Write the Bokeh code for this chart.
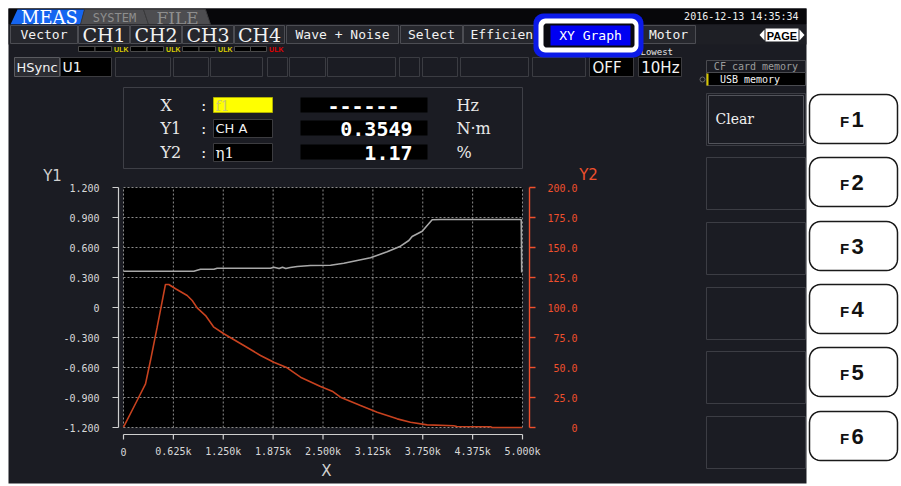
import numpy as np
from bokeh.plotting import figure
from bokeh.models import Range1d
from bokeh.core.properties import value
from bokeh.embed import file_html
from bokeh.resources import INLINE

# ---------------- data ----------------
x_ticks = [0, 625, 1250, 1875, 2500, 3125, 3750, 4375, 5000]
x_tick_labels = ["0", "0.625k", "1.250k", "1.875k", "2.500k", "3.125k", "3.750k", "4.375k", "5.000k"]
y1_ticks = [1.2, 0.9, 0.6, 0.3, 0.0, -0.3, -0.6, -0.9, -1.2]
y1_tick_labels = ["1.200", "0.900", "0.600", "0.300", "0", "-0.300", "-0.600", "-0.900", "-1.200"]
y2_ticks = [200, 175, 150, 125, 100, 75, 50, 25, 0]
y2_tick_labels = ["200.0", "175.0", "150.0", "125.0", "100.0", "75.0", "50.0", "25.0", "0"]

# Y1 (torque, N·m) vs X (f1, Hz)
torque_x = [0, 881, 965, 1132, 1174, 1842, 1884, 1950, 1992, 2034, 2090, 2177, 2343, 2594,
            2761, 2928, 3095, 3304, 3471, 3576, 3617, 3743, 3868, 3972, 4984, 4990]
torque_y = [0.363, 0.363, 0.383, 0.383, 0.393, 0.393, 0.403, 0.390, 0.403, 0.390, 0.400, 0.410,
            0.420, 0.423, 0.443, 0.470, 0.497, 0.557, 0.613, 0.670, 0.710, 0.763, 0.877, 0.880,
            0.880, 0.350]
# Y2 (efficiency eta1, %) vs X
eff_x = [0, 150, 276, 338, 422, 526, 568, 652, 798, 861, 923, 1028, 1132, 1257, 1508, 1717,
         1884, 2051, 2218, 2469, 2615, 2719, 2970, 3179, 3430, 3596, 3805, 4139, 4177, 4599,
         4620, 4996]
eff_y = [0.3, 19.8, 36.4, 55.8, 83.6, 119.2, 119.2, 115.6, 110.0, 105.8, 99.7, 93.3, 83.6,
         78.1, 68.3, 60.0, 54.4, 49.7, 41.9, 34.2, 30.3, 25.3, 18.3, 12.8, 7.2, 4.4, 2.2, 1.4,
         0.8, 0.6, 0.0, 0.0]

menu_tabs = ["Vector", "CH1", "CH2", "CH3", "CH4", "Wave + Noise", "Select", "Efficien", "XY Graph", "Motor"]
fkeys = ["1", "2", "3", "4", "5", "6"]

# ---------------- layout ----------------
W, H = 901, 486
O = 0  # offset (image px -> figure px)
MONO = "DejaVu Sans Mono"
SERIF = "DejaVu Serif"
SANSB = "Liberation Sans"

BG = "#1b1c23"
TABF = "#26272d"
TABL = "#4c4d53"
BOXL = "#3b3c42"
RED_AX = "#f0502d"
RED_LN = "#c8421f"
GRAY_LN = "#a8a8a8"

# plot area (image pixels)
PL, PR, PT, PB = 123, 522, 187, 427

p = figure(width=W, height=H, x_range=Range1d(0, W), y_range=Range1d(H, 0),
           output_backend="svg", toolbar_location=None, min_border=0,
           x_axis_location=None, y_axis_location=None, outline_line_color=None,
           background_fill_color="white", border_fill_color="white")
p.grid.visible = False

# data ranges mapped onto the plot area
kx = (x_ticks[-1] - x_ticks[0]) / (PR - PL)
x0 = PL - O
p.extra_x_ranges = {"dx": Range1d(x_ticks[0] - x0 * kx, x_ticks[0] + (W - x0) * kx)}
ky1 = (y1_ticks[0] - y1_ticks[-1]) / (PB - PT)
ky2 = (y2_ticks[0] - y2_ticks[-1]) / (PB - PT)
t0 = PT - O
p.extra_y_ranges = {
    "y1": Range1d(y1_ticks[0] - (H - t0) * ky1, y1_ticks[0] + t0 * ky1),
    "y2": Range1d(y2_ticks[0] - (H - t0) * ky2, y2_ticks[0] + t0 * ky2),
}


def box(l, t, r, b, fill, line=None, lw=1, alpha=1.0):
    p.quad(left=[l - O], right=[r - O], top=[t - O], bottom=[b - O],
           fill_color=fill, fill_alpha=alpha, line_color=line, line_width=lw)


def label(x, y, s, size, color="#ffffff", font=MONO, align="left", style="normal", baseline="middle"):
    p.text(x=[x - O], y=[y - O], text=[s], text_font=value(font), text_font_size=f"{size}px",
           text_color=color, text_align=align, text_baseline=baseline, text_font_style=style)


def rr_pts(l, t, r, b, rad, n=8):
    xs, ys = [], []
    corners = [((r - rad, t + rad), -90, 0), ((r - rad, b - rad), 0, 90),
               ((l + rad, b - rad), 90, 180), ((l + rad, t + rad), 180, 270)]
    for (cx, cy), a0, a1 in corners:
        for a in np.linspace(np.radians(a0), np.radians(a1), n):
            xs.append(cx + rad * np.cos(a) - O)
            ys.append(cy + rad * np.sin(a) - O)
    return xs, ys


def rrect(l, t, r, b, rad, fill, line=None, lw=1):
    xs, ys = rr_pts(l, t, r, b, rad)
    p.patch(xs, ys, fill_color=fill, line_color=line, line_width=lw)


# ---------------- screen background ----------------
box(8, 8, 806, 483, BG)
box(8, 8, 806, 24, "#07070a")

# top tabs
p.patch([10 - O, 17 - O, 84 - O, 80 - O], [24 - O, 9 - O, 9 - O, 24 - O], fill_color="#1565f0", line_color=None)
p.patch([80 - O, 84 - O, 143 - O, 148 - O], [24 - O, 9 - O, 9 - O, 24 - O], fill_color="#4d4d50", line_color="#3a3a3c")
p.patch([143 - O, 205 - O, 210 - O, 148 - O], [9 - O, 9 - O, 24 - O, 24 - O], fill_color="#4d4d50", line_color="#3a3a3c")
label(49, 17, "MEAS", 18, "#ffffff", SERIF, "center")
label(114, 17, "SYSTEM", 12, "#8e8e8e", MONO, "center")
label(177, 17, "FILE", 17, "#8e8e8e", SERIF, "center")
label(798, 16, "2016-12-13 14:35:34", 10, "#f0f0f0", MONO, "right")

# menu row
tab_edges = [(10, 77), (78, 129), (130, 181), (182, 233), (234, 284), (286, 398), (400, 462),
             (463, 545), (545, 636), (641, 695)]
box(8, 24, 806, 44, "#1e1f25")
for (l, r), name in zip(tab_edges, menu_tabs):
    if name == "XY Graph":
        continue
    box(l, 25, r, 43, TABF, TABL)
    if name.startswith("CH"):
        label((l + r) / 2, 34.5, name, 19, "#f2f2f2", SERIF, "center")
    elif name == "Efficien":
        label(470, 34, name, 13, "#f2f2f2", MONO, "left")
    else:
        label((l + r) / 2, 34, name, 13, "#f2f2f2", MONO, "center")

# ULK indicators
for i, (l, r) in enumerate(tab_edges[1:5]):
    bl = l
    br = r - 18
    mid = (bl + br) / 2
    box(bl, 46, mid, 51, "#000000", "#4a4a4a")
    box(mid, 46, br, 51, "#000000", "#4a4a4a")
    label(r - 1, 48.5, "ULK", 7, "#e00000" if i == 3 else "#d8cc00", SANSB, "right", "bold")

# PAGE
p.patch([764 - O, 759 - O, 764 - O], [29 - O, 34.5 - O, 40 - O], fill_color="white", line_color=None)
p.patch([799 - O, 804 - O, 799 - O], [29 - O, 34.5 - O, 40 - O], fill_color="white", line_color=None)
box(765, 28, 798, 41, "#ffffff")
label(781.5, 35, "PAGE", 11, "#000000", SANSB, "center", "bold")

# HSync row
box(14, 57, 59, 76, "#2b2c32", "#5a5b60")
label(36.5, 66.5, "HSync", 13, "#f2f2f2", "DejaVu Sans", "center")
box(60, 57, 111, 76, "#000000", "#3c3c40")
label(62, 66.5, "U1", 14, "#f2f2f2", "DejaVu Sans", "left")
for l, r in [(115, 170), (173, 208), (210, 262), (267, 287), (289, 325), (327, 395), (399, 419),
             (422, 457), (460, 528), (532, 585)]:
    box(l, 57, r, 76, BG, BOXL)
box(589, 57, 633, 76, "#000000", "#3c3c40")
label(592, 67, "OFF", 15, "#f2f2f2", "DejaVu Sans", "left")
box(638, 57, 681, 76, "#000000", "#3c3c40")
label(679, 67, "10Hz", 15, "#f2f2f2", "DejaVu Sans", "right")
label(640, 51, "Lowest", 9, "#e6e6e6", MONO, "left")

# storage
box(706, 60, 805, 72, BG, "#4a4b50")
label(755.5, 66, "CF card memory", 10, "#9c9c9c", MONO, "center")
box(706, 72, 805, 85, "#000000", "#4a4b50")
box(706, 73, 708, 85, "#d8c800")
label(755.5, 79, "USB   memory", 10, "#f2f2f2", MONO, "center")
p.scatter([702 - O], [79 - O], size=5, marker="circle", fill_color=None, line_color="#6a6a6a")

# XY Graph highlight
rrect(533, 13, 643, 57, 10, "#0b1ae8")
rrect(538, 18, 638, 52, 7, "#ffffff")
rrect(543, 23, 634, 47, 3, "#0a0a10")
box(550, 25, 630, 45, "#0000f2")
label(590, 35, "XY Graph", 13, "#ffffff", MONO, "center")

# ---------------- info panel ----------------
box(123, 87, 522, 168, BG, "#3e3f46")
rows = [(105, "X", "f1", "------", "Hz"), (128, "Y1", "CH A", "0.3549", "N·m"), (152, "Y2", "η1", "1.17", "%")]
for i, (yy, nm, src, val, unit) in enumerate(rows):
    label(160, yy, nm, 16, "#e8e8e8", SERIF, "left")
    label(199, yy, ":", 14, "#e8e8e8", MONO, "left")
    if i == 0:
        box(213, yy - 8, 272, yy + 7, "#ffff00", "#b0b000")
        label(215, yy, src, 14, "#c8c870", SERIF, "left")
    else:
        box(213, yy - 9, 272, yy + 9, "#000000", "#3c3c40")
        label(215, yy, src, 13 if i == 1 else 15, "#f2f2f2", "DejaVu Sans" if i == 1 else SERIF, "left")
    box(300, yy - 8, 427, yy + 7, "#000000")
    if i == 0:
        label(363, yy, val, 20, "#ffffff", MONO, "center", "bold")
    else:
        label(412, yy, val, 20, "#ffffff", MONO, "right", "bold")
    label(456, yy, unit, 16, "#e8e8e8", SERIF, "left")

# ---------------- chart ----------------
p.quad(left=[x_ticks[0]], right=[x_ticks[-1]], bottom=[y1_ticks[-1]], top=[y1_ticks[0]],
       x_range_name="dx", y_range_name="y1", fill_color="#000000", line_color=None)
n = len(x_ticks)
m = len(y1_ticks)
p.segment(x0=x_ticks, x1=x_ticks, y0=[y1_ticks[-1]] * n, y1=[y1_ticks[0]] * n,
          x_range_name="dx", y_range_name="y1", line_color="#8c8c8c", line_dash="2 2", line_width=1)
p.segment(x0=[x_ticks[0]] * m, x1=[x_ticks[-1]] * m, y0=y1_ticks, y1=y1_ticks,
          x_range_name="dx", y_range_name="y1", line_color="#8c8c8c", line_dash="2 2", line_width=1)

# series
p.line(eff_x, eff_y, x_range_name="dx", y_range_name="y2", line_color=RED_LN, line_width=1.6)
p.line(torque_x, torque_y, x_range_name="dx", y_range_name="y1", line_color=GRAY_LN, line_width=1.6)

# left axis (Y1)
AXC = "#cfcfcf"
p.segment(x0=[118 - O], x1=[118 - O], y0=[y1_ticks[-1]], y1=[y1_ticks[0]], y_range_name="y1",
          line_color=AXC, line_width=1.2)
p.segment(x0=[112 - O] * m, x1=[118 - O] * m, y0=y1_ticks, y1=y1_ticks, y_range_name="y1",
          line_color=AXC, line_width=1.2)
p.text(x=[99 - O] * m, y=y1_ticks, text=y1_tick_labels, y_range_name="y1",
       text_font=value(MONO), text_font_size="10px", text_color="#d8d8d8",
       text_align="right", text_baseline="middle")

# right axis (Y2)
k = len(y2_ticks)
p.segment(x0=[529 - O], x1=[529 - O], y0=[y2_ticks[-1]], y1=[y2_ticks[0]], y_range_name="y2",
          line_color=RED_AX, line_width=1.4)
p.segment(x0=[529 - O] * k, x1=[535 - O] * k, y0=y2_ticks, y1=y2_ticks, y_range_name="y2",
          line_color=RED_AX, line_width=1.4)
p.text(x=[577 - O] * k, y=y2_ticks, text=y2_tick_labels, y_range_name="y2",
       text_font=value(MONO), text_font_size="10px", text_color=RED_AX,
       text_align="right", text_baseline="middle")

# bottom axis (X)
p.segment(x0=[x_ticks[0]], x1=[x_ticks[-1]], y0=[434 - O], y1=[434 - O], x_range_name="dx",
          line_color=AXC, line_width=1.2)
p.segment(x0=x_ticks, x1=x_ticks, y0=[434 - O] * n, y1=[439 - O] * n, x_range_name="dx",
          line_color=AXC, line_width=1.2)
p.text(x=x_ticks, y=[451 - O] * n, text=x_tick_labels, x_range_name="dx",
       text_font=value(MONO), text_font_size="10px", text_color="#d8d8d8",
       text_align="center", text_baseline="middle")

label(52, 175, "Y1", 15, "#d0d0d0", "DejaVu Sans", "center")
label(588, 174, "Y2", 15, RED_AX, "DejaVu Sans", "center")
label(326, 470, "X", 15, "#d0d0d0", "DejaVu Sans", "center")

# ---------------- soft keys ----------------
key_tops = [93, 157, 222, 287, 351, 416]
for i, t in enumerate(key_tops):
    box(706, t, 805, t + 52, BG, "#3c3d44")
    if i == 0:
        box(708, t + 2, 803, t + 50, BG, "#52535a")
label(715, 118, "Clear", 14, "#f0f0f0", SERIF, "left")

# F buttons on the instrument bezel
btn_tops = [94, 157, 221, 284, 347, 411]
for t, d in zip(btn_tops, fkeys):
    rrect(809, t, 897, t + 49, 11, "#ffffff", "#1a1a1a", 1.5)
    label(844, t + 27, "F", 15, "#111111", SANSB, "center", "bold", "middle")
    label(857, t + 25, d, 22, "#111111", SANSB, "center", "bold", "middle")

open("out.html", "w").write(file_html(p, INLINE))
